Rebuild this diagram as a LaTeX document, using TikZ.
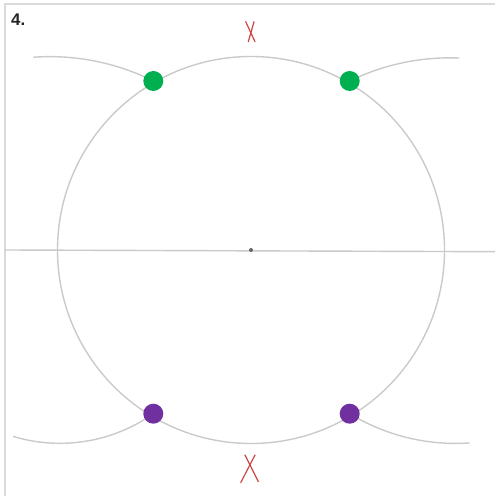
\documentclass[tikz,border=0pt]{standalone}
\usepackage{fontspec}
\setmainfont{Liberation Sans}
\usetikzlibrary{positioning}
\definecolor{ink}{RGB}{35,35,35}
\definecolor{frame}{RGB}{218,218,218}
\definecolor{guide}{RGB}{202,202,202}
\definecolor{ptGreen}{RGB}{0,176,80}
\definecolor{ptPurple}{RGB}{112,48,160}
\definecolor{cutRed}{RGB}{205,70,70}
\tikzset{
  border/.style={draw=frame,line width=1mm},
  gline/.style={draw=guide,line width=0.7mm},
  pt/.style={circle,inner sep=0pt,minimum size=10mm},
  cross/.style={draw=cutRed,line width=0.6mm,line cap=round},
}

\begin{document}
\begin{tikzpicture}[x=0.5mm,y=0.5mm]
  \useasboundingbox (0,0) rectangle (495,496);
  % frame and number
  \draw[border] (4.5,0) -- (4.5,491.5) -- (495,491.5);
  \node[anchor=base west,inner sep=0pt,text=ink,
    font=\fontsize{24}{28}\bfseries] (num) at (11,470) {4.};
  % base line and circle
  \coordinate (O) at (251,246);
  \coordinate (lineW) at (5,246);
  \coordinate (lineE) at (495,244.3);
  \draw[gline] (lineW) -- (lineE);
  \draw[gline] (O) circle[radius=193.5];
  \fill[black!60] (O) circle[radius=2];
  % intersection points
  \coordinate (g1) at (153.3,415);
  \coordinate (g2) at (349.7,415);
  \coordinate (p1) at (153.3,82.3);
  \coordinate (p2) at (349.7,82.3);
  % compass arcs
  \draw[gline] (g1) arc[start angle=63.5,end angle=94.1,radius=231.7];
  \draw[gline] (g2) arc[start angle=116,end angle=87.7,radius=229];
  \draw[gline] (p1) arc[start angle=-54.8,end angle=-106.8,radius=162];
  \draw[gline] (p2) arc[start angle=-121.4,end angle=-86,radius=203];
  \node[pt,fill=ptGreen] (G1) at (g1) {};
  \node[pt,fill=ptGreen] (G2) at (g2) {};
  \node[pt,fill=ptPurple] (P1) at (p1) {};
  \node[pt,fill=ptPurple] (P2) at (p2) {};
  % crosses
  \draw[cross] (245.7,474.3) -- (255,454.3);
  \draw[cross] (254,474.3) -- (248.3,454.3);
  \draw[cross] (245,41) -- (258.3,14.3);
  \draw[cross] (255,41) -- (240.7,13.3);
\end{tikzpicture}
\end{document}
